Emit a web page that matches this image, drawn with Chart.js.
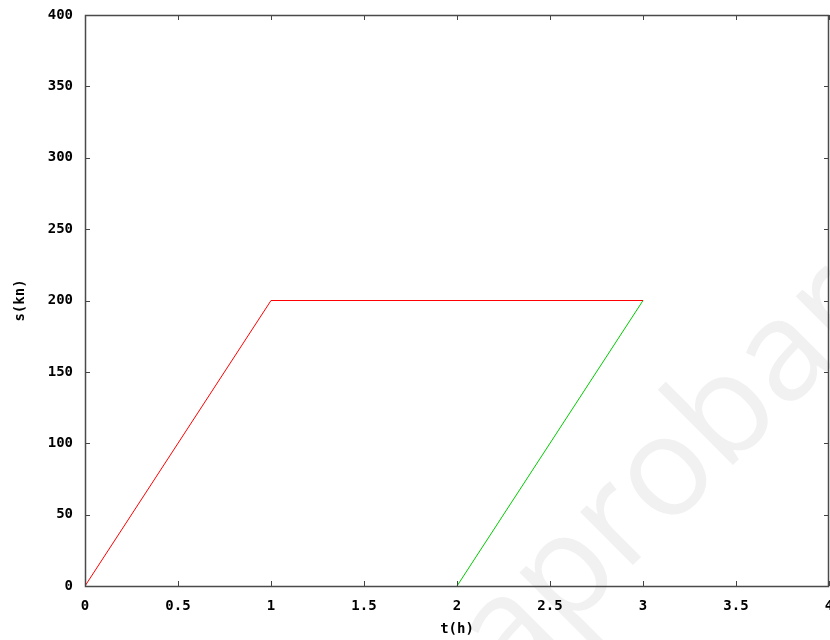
<!DOCTYPE html>
<html>
<head>
<meta charset="utf-8">
<script src="https://cdn.jsdelivr.net/npm/chart.js@4.4.1/dist/chart.umd.min.js"></script>
<style>
  html, body { margin: 0; padding: 0; background: #fff; }
  #wrap { width: 830px; height: 640px; }
</style>
</head>
<body>
<div id="wrap"><canvas id="chart"></canvas></div>
<script>
// Red series: t (h) and s (km)
const redT = [0, 1, 3];
const redS = [0, 200, 200];
// Green series
const greenT = [2, 3];
const greenS = [0, 200];

const xTitle = 't(h)';
const yTitle = 's(kn)';
const watermark = 'aprobar';

const labelFont = { family: "'DejaVu Sans Mono', monospace", size: 14, weight: 'bold' };

function toPoints(xs, ys) {
    return xs.map((x, i) => ({ x: x, y: ys[i] }));
}

// white background + faint watermark behind everything
const backgroundPlugin = {
    id: 'background',
    beforeDraw(chart) {
        const ctx = chart.ctx;
        ctx.save();
        ctx.fillStyle = '#ffffff';
        ctx.fillRect(0, 0, chart.width, chart.height);
        ctx.translate(509, 689);
        ctx.rotate(-Math.PI / 4);
        ctx.font = "140px 'Open Sans', sans-serif";
        ctx.fillStyle = '#f1f1f1';
        ctx.textAlign = 'left';
        ctx.textBaseline = 'alphabetic';
        ctx.fillText(watermark, 0, 0);
        ctx.restore();
    }
};

// gnuplot-like frame with inward, mirrored ticks
const framePlugin = {
    id: 'frame',
    afterDatasetsDraw(chart) {
        const ctx = chart.ctx;
        const a = chart.chartArea;
        const xs = chart.scales.x;
        const ys = chart.scales.y;
        const len = 5;
        ctx.save();
        ctx.strokeStyle = '#444444';
        ctx.lineWidth = 1;
        ctx.beginPath();
        xs.ticks.forEach(t => {
            const px = Math.round(xs.getPixelForValue(t.value)) + 0.5;
            ctx.moveTo(px, a.bottom);
            ctx.lineTo(px, a.bottom - len);
            ctx.moveTo(px, a.top);
            ctx.lineTo(px, a.top + len);
        });
        ys.ticks.forEach(t => {
            const py = Math.round(ys.getPixelForValue(t.value)) + 0.5;
            ctx.moveTo(a.left, py);
            ctx.lineTo(a.left + len, py);
            ctx.moveTo(a.right, py);
            ctx.lineTo(a.right - len, py);
        });
        ctx.stroke();
        ctx.lineWidth = 1.5;
        ctx.strokeStyle = '#4a4a4a';
        ctx.strokeRect(Math.round(a.left) + 0.5, Math.round(a.top) + 0.5,
            Math.round(a.right - a.left) - 1, Math.round(a.bottom - a.top));
        ctx.restore();
    }
};

const ctx = document.getElementById('chart').getContext('2d');
const chart = new Chart(ctx, {
    type: 'scatter',
    data: {
        datasets: [{
            label: 'rojo',
            data: toPoints(redT, redS),
            showLine: true,
            borderColor: '#ff0000',
            borderWidth: 1,
            pointRadius: 0,
            tension: 0
        }, {
            label: 'verde',
            data: toPoints(greenT, greenS),
            showLine: true,
            borderColor: '#00cc00',
            borderWidth: 1,
            pointRadius: 0,
            tension: 0
        }]
    },
    options: {
        responsive: true,
        maintainAspectRatio: false,
        animation: false,
        layout: {
            autoPadding: false,
            padding: { top: 15, right: 1, left: 0, bottom: 0 }
        },
        plugins: {
            legend: { display: false },
            tooltip: { enabled: false }
        },
        scales: {
            x: {
                type: 'linear',
                min: 0,
                max: 4,
                grid: { display: false, drawTicks: false },
                border: { display: false },
                ticks: {
                    stepSize: 0.5,
                    padding: 12,
                    color: '#000',
                    font: labelFont,
                    maxRotation: 0,
                    autoSkip: false,
                    callback: v => String(v)
                },
                title: {
                    display: true,
                    text: xTitle,
                    color: '#000',
                    font: labelFont,
                    padding: { top: 0, bottom: 2 }
                },
                afterFit(scale) {
                    scale.height = 54;
                    scale.paddingLeft = 0;
                    scale.paddingRight = 0;
                }
            },
            y: {
                type: 'linear',
                min: 0,
                max: 400,
                grid: { display: false, drawTicks: false },
                border: { display: false },
                ticks: {
                    stepSize: 50,
                    padding: 12,
                    color: '#000',
                    font: labelFont
                },
                title: {
                    display: true,
                    text: yTitle,
                    color: '#000',
                    font: labelFont,
                    padding: { top: 12, bottom: 0 }
                },
                afterFit(scale) {
                    scale.width = 85;
                    scale.paddingTop = 0;
                    scale.paddingBottom = 0;
                }
            }
        }
    },
    plugins: [backgroundPlugin, framePlugin]
});
</script>
</body>
</html>
